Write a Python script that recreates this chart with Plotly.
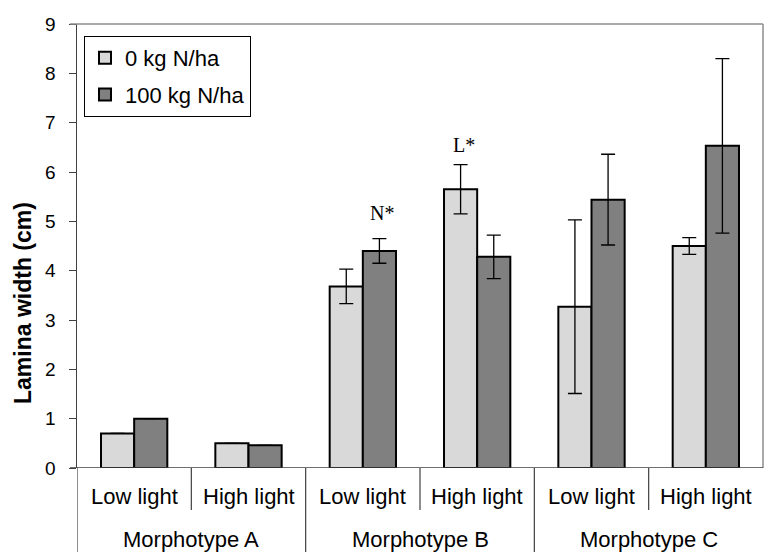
import plotly.graph_objects as go

# ---- data ----
morphotypes = ["Morphotype A", "Morphotype B", "Morphotype C"]
light_levels = ["Low light", "High light"]
series_names = ["0 kg N/ha", "100 kg N/ha"]
n0_values = [0.70, 0.50, 3.68, 5.65, 3.27, 4.50]
n0_errors = [0, 0, 0.35, 0.50, 1.76, 0.17]
n100_values = [1.00, 0.46, 4.40, 4.28, 5.44, 6.53]
n100_errors = [0, 0, 0.25, 0.44, 0.92, 1.77]
sig_labels = ["N*", "L*"]
sig_label_pos = [(2, 5.17, 1), (3, 6.55, 0)]  # (category index, y value, series index)
y_ticks = [0, 1, 2, 3, 4, 5, 6, 7, 8, 9]
y_title = "Lamina width (cm)"

# category positions
cats = [(m, l) for m in morphotypes for l in light_levels]
xpos = list(range(len(cats)))

FONT = "Arial, Liberation Sans, sans-serif"
SERIF = "Times New Roman, Liberation Serif, serif"

# plot-area geometry in pixels
W, H = 764, 552
ML, MR, MT, MB = 77, 1, 24, 84
PW, PH = W - ML - MR, H - MT - MB


def py(p):
    """pixel row -> paper y"""
    return (H - MB - p) / PH


def px(p):
    return (p - ML) / PW


fig = go.Figure()
fills = ["#d9d9d9", "#808080"]
for i, (name, vals, errs) in enumerate(
    [(series_names[0], n0_values, n0_errors), (series_names[1], n100_values, n100_errors)]
):
    fig.add_trace(go.Bar(
        x=xpos, y=vals, name=name,
        legendgroup=f"g{i}",
        marker=dict(color=fills[i], line=dict(color="black", width=2)),
        error_y=dict(type="data", array=errs, visible=True, color="black",
                     thickness=1.3, width=7),
    ))

fig.update_layout(
    width=W, height=H,
    margin=dict(l=ML, r=MR, t=MT, b=MB),
    paper_bgcolor="white", plot_bgcolor="white",
    barmode="group", bargap=0.42, bargroupgap=0,
    font=dict(family=FONT, size=22, color="black"),
    showlegend=True,
    legend=dict(
        x=px(84), y=py(36), xanchor="left", yanchor="top",
        bordercolor="black", borderwidth=1, bgcolor="white",
        font=dict(family=FONT, size=22, color="black"),
        tracegroupgap=5, itemwidth=30, traceorder="grouped",
    ),
    xaxis=dict(
        range=[-0.5, len(cats) - 0.5], showticklabels=False, ticks="",
        showgrid=False, zeroline=False, showline=False, fixedrange=True,
    ),
    yaxis=dict(
        range=[0, 9], tickvals=y_ticks, ticks="outside", ticklen=7,
        tickcolor="#404040", showline=True, linecolor="#404040", linewidth=1.5,
        showgrid=False, zeroline=False,
        tickfont=dict(family=FONT, size=19, color="black"),
        ticklabelstandoff=9,
    ),
)

shapes = []
# plot frame: top and right in gray, x axis at 0
shapes.append(dict(type="line", xref="paper", yref="paper", x0=px(70), x1=1, y0=1, y1=1,
                   line=dict(color="#8c8c8c", width=1.5)))
shapes.append(dict(type="line", xref="paper", yref="paper", x0=1, x1=1, y0=0, y1=1,
                   line=dict(color="#8c8c8c", width=1.5)))
shapes.append(dict(type="line", xref="paper", yref="y", x0=px(70), x1=1, y0=0, y1=0,
                   line=dict(color="#404040", width=1.5)))
# dividers between categories
for k in range(len(cats)):
    xb = k - 0.5
    y1 = py(H) if k % 2 == 0 else py(510)
    shapes.append(dict(type="line", xref="x", yref="paper", x0=xb, x1=xb, y0=0, y1=y1,
                       line=dict(color="#404040", width=1.2)))
fig.update_layout(shapes=shapes)

ann = []
for i, (m, l) in enumerate(cats):
    ann.append(dict(x=i, y=py(497), xref="x", yref="paper", text=l, showarrow=False,
                    font=dict(family=FONT, size=22, color="black"), yanchor="middle"))
for j, m in enumerate(morphotypes):
    ann.append(dict(x=2 * j + 0.5, y=py(539), xref="x", yref="paper", text=m,
                    showarrow=False, font=dict(family=FONT, size=22, color="black"),
                    yanchor="middle"))
for txt, (ci, yv, si) in zip(sig_labels, sig_label_pos):
    ann.append(dict(x=ci, y=yv, xref="x", yref="y", text=txt, showarrow=False,
                    xshift=(-16.5 if si == 0 else 16.5) + 3,
                    font=dict(family=SERIF, size=20, color="black"), yanchor="middle"))
# y-axis title (placed as in the reference, below the axis centre)
ann.append(dict(x=px(23), y=py(303), xref="paper", yref="paper", text=f"<b>{y_title}</b>",
                textangle=-90, showarrow=False, xanchor="center", yanchor="middle",
                font=dict(family=FONT, size=23, color="black")))
fig.update_layout(annotations=ann)

fig.write_html(
    "out.html",
    config={"displayModeBar": False, "staticPlot": True},
    post_script="document.body.style.margin='0';document.body.style.overflow='hidden';",
)
